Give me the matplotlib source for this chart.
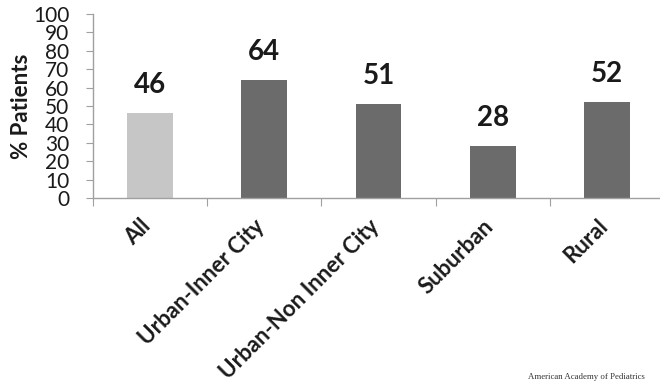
import matplotlib
matplotlib.use("Agg")
import matplotlib.pyplot as plt

categories = ["All", "Urban-Inner City", "Urban-Non Inner City", "Suburban", "Rural"]
values = [46, 64, 51, 28, 52]
bar_colors = ["#c6c6c6", "#6b6b6b", "#6b6b6b", "#6b6b6b", "#6b6b6b"]
y_ticks = list(range(0, 101, 10))

plt.rcParams["font.family"] = ["Lato", "DejaVu Sans"]

fig = plt.figure(figsize=(6.6, 3.86), dpi=100)
ax = fig.add_axes([0.141, 0.487, 0.865, 0.477])

x = list(range(len(categories)))
ax.bar(x, values, width=0.4, color=bar_colors, zorder=2)

for xi, v in zip(x, values):
    ax.annotate(str(v), (xi, v), xytext=(0, 11), textcoords="offset points",
                ha="center", va="bottom", fontsize=20, fontweight="bold",
                color="#1a1a1a")

ax.set_xlim(-0.5, len(categories) - 0.5)
ax.set_ylim(0, 100)
ax.set_yticks(y_ticks)
ax.set_yticklabels([str(t) for t in y_ticks], fontsize=15, color="#1a1a1a")
ax.tick_params(axis="y", length=5, color="#a0a0a0", pad=12)

# category boundaries carry the tick marks, labels sit under the bars
ax.set_xticks([i - 0.5 for i in range(len(categories) + 1)])
ax.set_xticklabels([])
ax.tick_params(axis="x", length=6, color="#a0a0a0")
for xi, name in zip(x, categories):
    ax.annotate(name, (xi, 0), xytext=(-2, -18), textcoords="offset points",
                rotation=45, rotation_mode="anchor", ha="right", va="center",
                fontsize=16, fontweight="bold", color="#1a1a1a",
                annotation_clip=False)

for side in ["top", "right"]:
    ax.spines[side].set_visible(False)
for side in ["left", "bottom"]:
    ax.spines[side].set_color("#a0a0a0")
    ax.spines[side].set_linewidth(1.0)

ax.set_ylabel("% Patients", fontsize=16, fontweight="bold", color="#1a1a1a",
              labelpad=1)

fig.text(0.977, 0.012, "American Academy of Pediatrics", ha="right", va="bottom",
         fontsize=6.3, family=["Liberation Serif"], color="#333333")

fig.savefig("out.png", dpi=100, facecolor="white")
